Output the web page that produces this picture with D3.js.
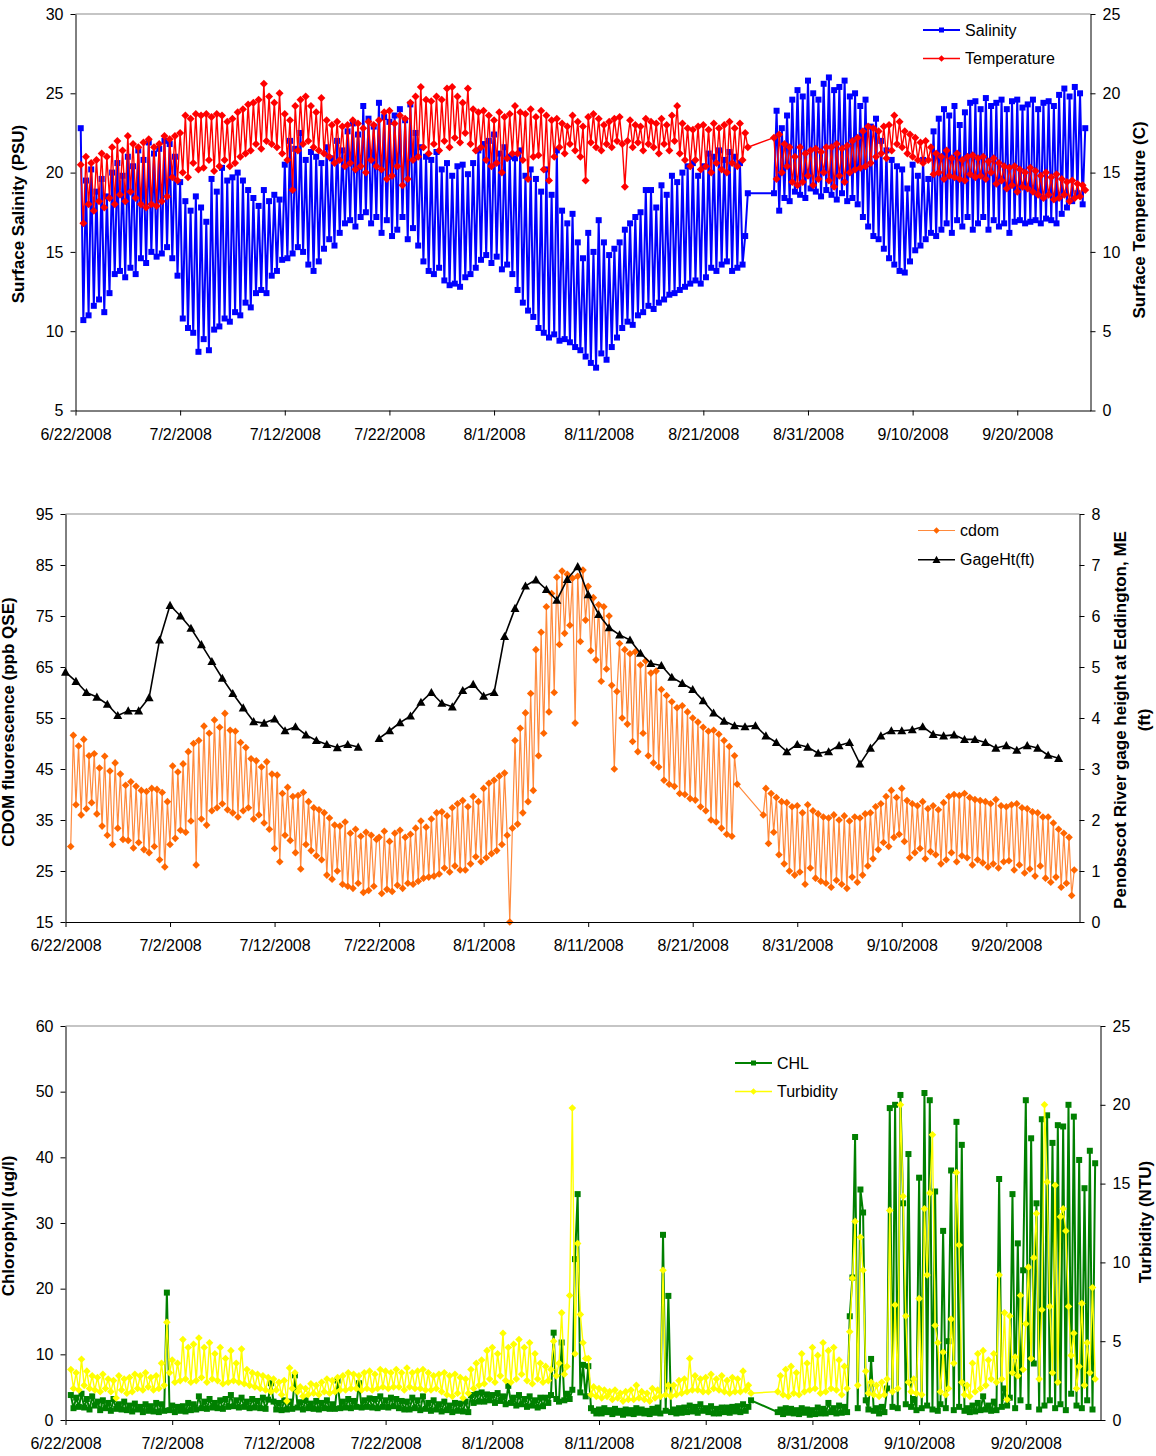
<!DOCTYPE html>
<html><head><meta charset="utf-8">
<script src="https://cdn.jsdelivr.net/npm/d3@7"></script>
<style>
body{margin:0;background:#fff;}
svg{display:block;font-family:"Liberation Sans",Arial,sans-serif;}
</style></head><body>
<svg id="c" width="1156" height="1456"></svg>
<script>
// ---------- DATA ----------
const tickDays = [0,10,20,30,40,50,60,70,80,90];
const tickLabels = ["6/22/2008","7/2/2008","7/12/2008","7/22/2008","8/1/2008","8/11/2008","8/21/2008","8/31/2008","9/10/2008","9/20/2008"];
const DAYS = 97;            // 6/22/2008 .. 9/27/2008
const segStartA = 0;        // first row of segment A = day 0 (6/22)
const segStartB = 66;       // first row of segment B = day 66 (8/27)
// each row = one day, readings every 6 h (first row of a segment ends at day end)

const salinityA = [
[22.8,10.7],[19.5,11.0,20.2,11.6],[18.8,12.0,19.6,11.2],[18.5,12.4,20.0,13.6],[20.6,13.8,19.8,13.4],
[21.0,14.0,20.4,13.6],[21.4,14.6,20.8,14.3],[21.9,15.0,21.2,14.7],[21.5,14.9,22.0,15.3],[21.8,14.6,21.0,13.5],
[19.4,10.8,18.2,10.2],[17.6,9.9,18.5,8.7],[17.8,9.5,16.9,8.8],[19.6,10.1,18.8,10.3],[20.3,10.8,19.5,10.6],
[19.7,11.2,20.0,11.0],[19.5,11.8,18.9,11.5],[18.4,12.4,17.9,12.6],[18.9,12.4,18.2,13.5],[18.6,13.8,18.3,14.5],
[20.5,14.6,22.0,14.9],[21.5,15.3,22.5,15.0],[20.8,14.2,21.3,13.8],[21.0,14.4,20.6,15.2],[21.6,15.8,20.9,15.4],
[22.0,16.2,21.4,16.8],[22.6,17.0,23.1,16.6],[22.4,17.2,24.2,17.5],[23.4,16.8,22.9,17.2],[24.4,16.2,23.5,17.0],
[23.2,16.0,23.6,16.4],[24.0,17.2,23.3,15.8],[24.3,16.5,22.5,15.4],[21.6,14.4,21.0,13.8],[20.8,13.6,21.3,14.0],
[20.2,13.2,20.6,12.9],[19.8,13.0,20.4,12.8],[20.5,13.4,19.9,13.6],[20.6,14.0,21.4,14.5],[21.8,14.8,22.0,14.3],
[22.4,14.7,21.2,13.9],[21.6,14.2,21.0,13.6],[20.9,12.6,21.4,11.8],[19.8,11.3,20.2,10.9],[19.6,10.2,18.8,9.9],
[20.2,9.6,18.6,9.8],[21.4,9.4,17.6,9.5],[16.8,9.3,17.4,9.0],[15.6,8.8,14.6,8.4],[16.2,8.0,15.0,7.7],
[17.0,8.6,15.6,8.2],[14.8,9.0,15.2,9.6],[15.6,10.2,16.4,10.6],[16.8,10.4,17.2,11.0],[17.5,11.2,18.9,11.6],
[18.9,11.4,17.8,11.8],[19.2,12.0,18.6,12.3],[19.8,12.4,19.4,12.6],[20.0,12.8,20.4,13.0],[20.6,13.2,19.8,13.0],
[20.4,13.4,21.2,14.0],[21.0,13.8,21.4,14.2],[20.8,14.4,21.3,13.8],[21.0,14.0,20.6,14.2],[16.0,18.7]
];
const salinityB = [
[18.7],[23.9,17.6,22.8,18.4],[23.6,18.2,24.6,18.8],[25.2,18.6,24.8,18.4],[25.8,19.0,25.0,18.8],
[24.6,18.5,25.6,18.9],[26.0,18.6,25.2,18.3],[25.4,18.7,25.8,18.2],[24.8,18.4,25.0,18.0],[24.2,17.2,24.6,16.6],
[22.9,16.0,23.4,15.8],[22.0,15.2,21.4,14.6],[20.8,14.2,20.4,13.8],[20.2,13.7,19.0,14.4],[20.5,15.1,19.8,15.4],
[20.8,15.8,19.6,16.2],[22.6,16.0,23.4,16.4],[24.0,16.8,23.6,16.2],[24.2,17.0,23.0,16.6],[23.8,17.2,24.4,16.4],
[24.5,16.8,24.0,17.2],[24.7,16.4,24.2,17.0],[24.4,16.6,24.6,16.8],[24.0,16.2,24.5,16.9],[24.6,17.0,24.1,16.8],
[24.3,16.9,24.6,17.0],[24.0,16.8,24.4,17.1],[24.5,17.0,24.2,16.8],[24.9,17.4,25.3,17.8],[24.8,18.2,25.4,18.7],
[25.0,18.0,22.8]
];
const temperatureA = [
[15.5,11.8],[16.0,13.0,15.6,12.6],[15.8,13.2,16.2,12.8],[16.0,13.4,16.6,13.0],[17.0,13.6,16.4,13.2],
[17.3,13.8,16.8,13.4],[16.6,13.0,16.9,12.8],[17.1,13.0,16.6,12.9],[16.8,13.2,17.3,13.5],[17.1,14.7,17.3,14.5],
[17.5,15.0,18.6,14.7],[18.4,15.6,18.7,15.2],[18.6,15.3,18.7,15.8],[18.5,15.1,18.7,15.4],[18.6,15.8,18.2,15.4],
[18.4,15.6,18.8,16.0],[19.0,16.2,19.3,16.4],[19.4,16.8,19.6,16.5],[20.6,17.0,19.8,16.8],[19.4,16.6,20.0,16.2],
[18.7,15.8,18.3,13.9],[19.2,16.4,19.6,16.8],[19.8,17.0,19.2,16.6],[18.8,16.4,19.7,16.2],[18.3,16.0,18.0,15.6],
[18.2,15.8,17.9,15.4],[18.0,15.6,18.3,15.2],[18.1,15.4,17.8,15.0],[18.2,15.8,18.0,15.4],[18.3,15.2,18.8,14.6],
[18.9,14.8,18.1,15.4],[18.6,14.2,18.4,14.6],[19.4,15.8,19.8,16.0],[20.4,16.6,19.6,16.2],[19.5,16.8,19.8,16.4],
[19.6,17.0,20.3,16.6],[20.4,17.2,19.8,16.9],[19.4,17.5,20.3,16.8],[19.0,16.4,18.8,16.6],[18.9,15.8,18.6,15.4],
[18.3,15.6,18.8,15.0],[18.5,15.9,18.7,16.2],[19.2,16.2,18.8,15.8],[18.7,14.6,19.0,16.0],[18.5,16.1,18.9,15.2],
[18.6,14.5,18.3,16.0],[18.4,16.6,18.1,16.2],[17.9,16.8,18.6,16.4],[18.2,16.0,17.9,14.5],[18.5,16.9,18.7,16.6],
[18.4,16.4,18.0,16.8],[18.2,16.6,18.4,17.0],[18.5,16.8,14.1,17.0],[18.3,16.6,18.0,16.9],[17.9,16.4,18.4,16.8],
[18.2,16.6,18.1,16.2],[18.4,16.8,18.0,16.4],[18.6,17.0,19.2,16.2],[18.1,15.8,17.8,15.4],[17.7,15.8,17.9,15.2],
[18.0,15.4,17.7,15.0],[18.1,15.6,17.8,15.2],[18.0,15.0,18.2,15.6],[17.8,15.4,18.1,15.8],[17.5,16.6]
];
const temperatureB = [
[17.2],[14.6,17.4,15.0,16.8],[15.4,16.6,14.4,16.0],[14.2,16.6,14.4,16.2],[14.8,16.4,14.2,16.5],
[14.6,16.3,15.0,16.6],[14.5,16.6,14.1,16.8],[14.8,16.5,14.4,16.7],[15.0,17.0,15.2,17.2],[15.3,17.6,15.4,17.9],
[15.6,17.8,16.0,17.6],[16.2,17.9,15.9,18.0],[16.4,18.6,16.8,18.2],[16.6,17.6,16.2,17.4],[16.0,17.2,15.8,16.9],
[15.6,17.0,15.8,16.6],[14.9,16.2,15.0,16.0],[14.6,16.4,14.8,15.9],[14.7,16.2,14.6,15.8],[14.5,16.0,14.9,16.1],
[14.7,15.9,14.8,16.0],[14.6,15.7,15.0,15.9],[14.3,15.6,14.5,15.4],[14.0,15.3,14.2,15.4],[13.8,15.2,14.1,15.0],
[14.0,15.3,13.8,15.1],[13.6,14.8,13.4,15.0],[13.6,14.7,13.3,14.9],[13.4,14.6,13.6,14.4],[13.2,14.5,13.4,14.3],
[13.5,14.2,13.9]
];
const cdomA = [
[29.8,51.6],[38.0,49.5,36.0,50.8],[37.2,47.6,38.4,48.0],[36.2,45.2,33.8,47.5],[32.0,44.6,30.2,46.2],
[33.4,44.0,31.2,41.8],[31.0,42.5,29.5,41.6],[30.6,40.8,29.2,40.6],[28.6,41.2,29.8,41.0],[27.2,40.4,25.8,38.6],
[30.2,45.6,31.4,44.4],[33.0,46.0,32.6,48.4],[34.8,50.0,26.2,50.6],[35.2,53.4,34.0,52.0],[36.8,54.6,37.4,53.2],
[38.2,55.9,37.0,52.6],[36.4,52.4,35.6,50.2],[36.8,49.2,37.4,47.0],[35.2,46.6,36.0,45.4],[34.4,46.4,33.2,44.0],
[29.4,43.8,26.8,40.2],[32.0,41.4,31.0,39.6],[28.6,39.8,25.4,40.4],[30.2,38.6,29.0,37.4],[28.0,37.0,27.2,36.4],
[24.2,35.4,23.4,34.0],[25.0,33.8,22.4,34.6],[22.0,32.4,21.6,33.2],[22.6,31.8,20.8,32.6],[21.2,32.0,22.0,31.2],
[31.6,20.6,32.8,21.4],[30.8,21.0,32.4,22.2],[33.0,21.6,31.6,22.6],[32.2,22.4,33.4,23.0],[34.8,23.6,33.6,23.8],
[35.2,24.0,36.4,24.4],[36.6,25.6,35.8,24.8],[37.4,26.0,38.2,25.2],[38.8,25.2,37.6,26.4],[39.6,27.8,38.6,26.8],
[41.2,27.6,42.2,28.4],[42.8,29.0,43.6,30.2],[44.2,32.0,15.0,33.4],[50.6,34.2,53.0,36.4],[56.0,38.6,59.8,40.8],
[68.4,47.6,71.8,52.0],[76.8,56.2,79.4,60.0],[82.6,69.4,83.8,71.6],[83.2,73.2,82.4,54.0],[82.8,70.0,84.0,74.2],
[80.8,68.2,78.6,66.4],[77.2,62.2,76.8,64.6],[75.0,61.4,45.0,60.2],[69.6,55.0,68.4,53.8],[67.6,50.4,68.0,48.4],
[65.4,52.0,66.2,47.6],[63.8,46.2,64.2,45.4],[60.6,42.8,59.4,42.0],[58.2,41.6,57.0,40.2],[57.4,40.0,56.2,39.2],
[55.0,38.9,54.2,37.6],[53.2,36.8,52.4,35.0],[52.6,34.6,51.8,33.4],[50.6,32.2,49.4,31.8],[47.6,42.0]
];
const cdomB = [
[36.0],[41.2,30.4,40.2,32.6],[39.4,28.2,38.6,26.4],[38.4,25.0,37.6,24.2],[37.8,24.8,36.4,22.4],
[38.0,25.6,36.8,23.6],[36.2,23.0,35.6,22.6],[35.4,21.8,36.0,23.2],[35.0,22.4,35.8,21.6],[34.8,23.8,35.6,22.8],
[35.4,24.2,36.2,26.0],[36.4,27.4,37.6,29.2],[38.2,30.6,39.6,29.8],[40.8,31.6,39.4,32.2],[41.2,30.8,38.8,27.6],
[38.2,28.6,37.8,29.4],[38.6,27.4,37.2,28.8],[37.8,28.2,37.0,26.4],[38.4,27.2,39.6,28.6],[40.0,26.8,39.8,28.0],
[40.2,27.6,39.4,26.2],[39.0,27.2,38.8,26.6],[38.6,25.8,38.2,26.4],[39.0,25.6,37.8,26.8],[37.6,27.0,38.0,25.2],
[38.2,26.2,37.4,24.6],[37.2,25.4,36.6,24.0],[36.4,26.0,35.6,23.6],[35.6,22.8,34.4,23.8],[33.2,21.8,32.4,22.6],
[31.6,20.2,25.2]
];
// daily gage height (ft), day 0 = 6/22; null = missing
const gageHt = [
4.90,4.72,4.50,4.41,4.27,4.05,4.14,4.14,4.40,5.53,6.21,6.00,5.76,5.44,5.11,4.78,4.48,4.20,3.93,3.90,
3.98,3.75,3.83,3.67,3.56,3.48,3.42,3.48,3.43,null,3.60,3.75,3.91,4.04,4.31,4.50,4.29,4.22,4.54,4.66,
4.43,4.50,5.60,6.15,6.59,6.71,6.52,6.31,6.72,6.97,6.42,6.03,5.77,5.63,5.53,5.27,5.07,5.03,4.80,4.68,
4.56,4.34,4.10,3.94,3.85,3.83,3.85,3.65,3.52,3.34,3.48,3.43,3.31,3.34,3.46,3.52,3.10,3.41,3.65,3.75,
3.75,3.77,3.83,3.68,3.65,3.67,3.58,3.58,3.52,3.41,3.46,3.37,3.46,3.41,3.27,3.21
];
const chlA = [
[3.8,1.8],[3.4,2.0,4.0,1.9],[3.2,1.6,3.6,2.2],[2.8,1.5,3.0,1.8],[2.6,1.4,3.2,1.7],
[2.4,1.6,2.8,1.5],[2.2,1.3,2.5,1.6],[2.0,1.2,2.4,1.4],[2.1,1.3,2.6,1.2],[2.4,1.4,19.4,1.5],
[2.2,1.2,2.0,1.4],[2.1,1.3,2.6,1.5],[2.4,1.6,3.6,1.8],[2.8,1.7,3.2,1.9],[2.6,1.8,3.0,1.7],
[3.2,2.0,3.8,2.1],[3.0,1.9,3.4,2.0],[2.8,1.8,3.2,1.9],[2.9,1.8,3.4,1.7],[3.1,5.6,2.8,1.6],
[2.6,1.5,3.0,1.6],[2.8,1.7,6.8,1.9],[2.7,1.6,3.0,1.8],[2.5,1.7,2.9,1.6],[2.6,1.8,3.0,1.7],
[2.4,1.7,6.0,1.8],[2.8,1.9,3.2,1.8],[2.9,2.0,5.6,1.9],[3.0,2.0,3.3,1.9],[3.2,1.8,3.6,2.0],
[3.0,1.9,3.4,2.1],[3.2,1.8,2.9,1.6],[2.8,1.6,3.4,1.8],[3.0,1.5,3.6,1.7],[2.6,1.4,3.0,1.6],
[2.4,1.3,2.8,1.5],[2.2,1.2,2.6,1.4],[2.5,1.3,2.8,1.2],[3.8,2.6,4.0,2.8],[4.2,2.8,3.9,3.0],
[3.8,2.6,4.1,2.9],[3.6,2.4,5.2,2.6],[3.4,2.2,3.8,2.4],[3.2,2.0,3.6,2.2],[3.0,1.9,3.4,2.1],
[3.4,2.6,3.8,13.3],[3.2,2.8,11.8,3.0],[4.0,3.2,4.6,24.5],[34.4,4.2,8.4,3.6],[8.2,1.8,1.4,1.0],
[1.6,1.0,1.8,1.2],[1.5,0.9,1.7,1.1],[1.4,0.8,1.6,1.0],[1.5,0.9,1.8,1.1],[1.6,1.0,1.4,0.9],
[1.7,1.1,1.9,1.0],[28.2,1.4,18.9,1.2],[1.6,1.0,1.8,1.1],[1.9,1.2,2.2,1.3],[2.0,1.1,2.4,1.4],
[1.8,1.2,2.1,1.0],[1.7,1.0,1.9,1.2],[1.9,1.1,2.0,1.3],[2.1,1.2,2.4,1.4],[2.0,3.0]
];
const chlB = [
[1.2],[1.6,0.9,1.8,1.1],[1.7,1.0,1.5,0.9],[1.8,1.1,1.6,0.8],[1.5,0.9,1.9,1.0],
[1.7,1.0,2.6,1.2],[1.8,1.0,2.2,1.1],[2.0,1.2,15.8,21.7],[43.1,1.8,35.1,31.6],[3.0,1.6,9.3,1.4],
[1.8,1.0,2.0,1.2],[4.8,47.5,2.0,48.0],[1.8,49.5,33.0,2.4],[40.5,2.0,3.2,1.5],[36.9,1.8,49.8,2.2],
[48.7,1.6,34.8,1.4],[2.4,28.8,1.8,12.0],[38.0,1.5,45.4,2.0],[41.9,1.4,1.8,1.2],[2.2,1.3,2.6,1.5],
[3.6,1.6,2.2,1.4],[2.8,1.5,36.7,2.0],[4.8,2.2,3.4,34.4],[1.8,26.9,3.0,22.8],[48.7,2.0,42.9,8.6],
[33.0,1.6,45.8,2.2],[46.4,3.0,42.2,1.8],[44.9,2.4,44.7,1.5],[48.0,4.0,46.2,2.2],[39.6,1.8,35.3,3.0],
[41.0,1.6,39.1]
];
const turbidityA = [
[3.2,2.0],[3.0,1.9,3.85,2.2],[3.1,2.0,2.8,1.9],[2.7,1.8,2.9,2.0],[2.6,1.8,2.5,1.4],
[2.8,1.9,2.6,1.7],[2.7,1.8,2.9,2.0],[2.8,1.9,3.0,2.1],[2.7,1.9,2.8,2.0],[3.6,2.2,6.2,3.0],
[3.8,2.4,3.6,2.5],[5.1,2.6,4.6,2.4],[4.8,2.5,5.2,2.7],[4.6,2.4,4.9,2.6],[4.2,2.5,4.6,2.3],
[3.9,2.4,4.4,2.5],[3.6,2.4,4.5,2.3],[3.2,2.2,3.0,2.1],[2.9,2.0,2.8,1.9],[2.7,1.8,2.6,1.9],
[2.4,1.6,2.5,1.2],[3.3,2.0,3.0,1.8],[2.1,1.5,2.0,1.6],[2.3,1.7,2.2,1.6],[2.4,1.8,2.6,1.7],
[2.5,1.8,2.7,1.9],[2.8,1.9,3.0,2.0],[2.9,2.0,2.8,1.9],[3.0,2.0,3.1,1.9],[2.9,2.0,3.2,2.1],
[3.1,2.0,3.0,2.1],[3.2,2.1,3.0,1.9],[3.3,2.1,3.0,2.0],[3.1,2.0,3.2,1.9],[3.0,1.9,2.8,2.0],
[2.9,1.8,3.0,1.6],[2.8,1.5,2.9,1.7],[2.7,1.4,2.6,1.7],[3.2,2.0,3.6,2.2],[3.8,2.3,4.4,2.6],
[4.6,2.4,4.2,2.8],[5.5,2.5,4.6,2.4],[4.8,2.6,5.1,2.9],[4.6,2.5,4.9,2.3],[4.2,2.6,3.6,2.4],
[3.4,2.5,3.2,5.0],[2.8,3.6,6.8,2.9],[3.4,7.9,19.8,4.2],[11.2,6.7,4.9,3.9],[3.9,1.6,2.1,1.5],
[2.0,1.4,1.9,1.5],[1.8,1.3,1.9,1.4],[1.7,1.2,1.8,1.3],[1.9,1.3,2.2,1.4],[1.8,1.3,1.7,1.2],
[2.0,1.4,1.9,1.5],[9.5,1.6,2.2,1.5],[2.2,1.6,2.5,1.7],[2.6,1.8,3.9,1.9],[2.8,1.9,2.6,1.8],
[2.7,1.8,2.9,2.0],[2.6,1.9,2.8,1.8],[2.5,1.7,2.7,1.8],[2.6,1.8,3.1,1.9],[2.2,1.7]
];
const turbidityB = [
[1.8],[2.8,1.6,3.2,1.5],[3.4,1.7,3.0,1.6],[4.2,1.8,3.6,1.9],[4.6,2.0,4.1,1.7],
[4.9,1.8,4.4,2.0],[4.6,1.9,3.8,1.6],[3.4,2.0,5.6,9.0],[12.6,2.2,11.6,9.5],[3.1,1.7,2.4,1.6],
[2.2,1.5,2.4,1.6],[2.6,13.3,1.8,7.3],[2.0,20.0,14.2,6.6],[2.4,1.8,2.6,1.7],[7.7,1.6,13.4,9.2],
[14.4,18.1,6.0,4.9],[1.8,4.3,1.6,2.0],[6.4,3.6,15.7,11.1],[2.4,1.6,2.2,1.5],[3.6,1.8,4.2,2.0],
[4.4,2.2,3.8,2.6],[4.2,2.4,9.2,2.6],[6.8,1.3,6.6,3.0],[4.0,2.8,7.9,3.2],[6.1,9.7,3.9,10.3],
[13.1,2.6,7.0,20.0],[15.1,7.2,3.0,14.9],[2.4,12.9,13.4,12.0],[7.2,4.1,5.5,2.0],[3.4,7.4,2.2,4.9],
[3.0,8.4,2.6]
];

// ---------- HELPERS ----------
function expand(rowsA, rowsB) {
  const out = [];
  [[rowsA, segStartA], [rowsB, segStartB]].forEach(([rows, start]) => {
    rows.forEach((row, k) => {
      const off = k === 0 ? 1 - 0.25 * row.length : 0;
      row.forEach((v, j) => out.push({t: start + k + off + 0.25 * j, v}));
    });
  });
  return out;
}
const sym = {
  square: s => `M${-s},${-s}h${2*s}v${2*s}h${-2*s}Z`,
  diamond: r => `M0,${-r}L${r},0L0,${r}L${-r},0Z`,
  triangle: r => `M0,${-r}L${r},${r*0.8}L${-r},${r*0.8}Z`
};

const svg = d3.select("#c");

function styleAxis(a) {
  a.attr("font-family", null).attr("font-size", null);
  a.selectAll("text").attr("font-size", 16).attr("fill", "#000");
  a.selectAll("line").attr("stroke", "#000");
  a.selectAll("path.domain").attr("stroke", "#000");
}

function panel(cfg) {
  const g = svg.append("g");
  const x = d3.scaleLinear().domain([0, DAYS]).range([cfg.left, cfg.right]);
  const yL = d3.scaleLinear().domain(cfg.yL).range([cfg.bottom, cfg.top]);
  const yR = d3.scaleLinear().domain(cfg.yR).range([cfg.bottom, cfg.top]);
  g.append("line").attr("x1", cfg.left).attr("x2", cfg.right).attr("y1", cfg.top).attr("y2", cfg.top)
    .attr("stroke", "#8c8c8c").attr("stroke-width", 1.2);
  const series = g.append("g");
  const ab = g.append("g").attr("transform", `translate(0,${cfg.bottom})`)
    .call(d3.axisBottom(x).tickValues(tickDays).tickFormat((d, i) => tickLabels[i]).tickSize(5).tickSizeOuter(0).tickPadding(13));
  styleAxis(ab);
  const al = g.append("g").attr("transform", `translate(${cfg.left},0)`)
    .call(d3.axisLeft(yL).tickValues(cfg.ticksL).tickFormat(d3.format("d")).tickSize(5).tickSizeOuter(0).tickPadding(7));
  styleAxis(al);
  const ar = g.append("g").attr("transform", `translate(${cfg.right},0)`)
    .call(d3.axisRight(yR).tickValues(cfg.ticksR).tickFormat(d3.format("d")).tickSize(5).tickSizeOuter(0).tickPadding(7));
  styleAxis(ar);
  return {g, series, x, yL, yR};
}

function addSeries(p, data, y, o) {
  const line = d3.line().defined(d => d.v != null).x(d => p.x(d.t)).y(d => y(d.v));
  p.series.append("path").datum(data).attr("d", line).attr("fill", "none")
    .attr("stroke", o.lineColor || o.color).attr("stroke-width", o.lw).attr("stroke-linejoin", "round");
  p.series.append("g").selectAll("path").data(data.filter(d => d.v != null)).join("path")
    .attr("d", o.marker).attr("transform", d => `translate(${p.x(d.t)},${y(d.v)})`).attr("fill", o.color);
}

function legend(g, items, x0, y0, dy) {
  items.forEach((it, i) => {
    const y = y0 + i * dy;
    g.append("line").attr("x1", x0).attr("x2", x0 + 37).attr("y1", y).attr("y2", y)
      .attr("stroke", it.lineColor || it.color).attr("stroke-width", it.lw);
    g.append("path").attr("d", it.legendMarker || it.marker).attr("transform", `translate(${x0 + 18.5},${y})`).attr("fill", it.color);
    g.append("text").attr("x", x0 + 42).attr("y", y).attr("dy", "0.35em").attr("font-size", 16).attr("fill", "#000").text(it.name);
  });
}

function vtitle(x, y, lines, dx) {
  const t = svg.append("text").attr("transform", `translate(${x},${y}) rotate(-90)`)
    .attr("text-anchor", "middle").attr("font-size", 17).attr("font-weight", "bold").attr("fill", "#000");
  lines.forEach((s, i) => t.append("tspan").attr("x", 0).attr("y", i * (dx || 0)).attr("dy", "0.35em").text(s));
}

// ---------- PANEL 1 ----------
const p1 = panel({left: 75.5, right: 1090.5, top: 14, bottom: 410.5, yL: [5, 30], yR: [0, 25],
  ticksL: [5, 10, 15, 20, 25, 30], ticksR: [0, 5, 10, 15, 20, 25]});
const sal = {color: "#0000FF", lw: 2, marker: sym.square(3), legendMarker: sym.square(2.5)};
const tmp = {color: "#FF0000", lw: 1.4, marker: sym.diamond(4), legendMarker: sym.diamond(3.2)};
addSeries(p1, expand(salinityA, salinityB), p1.yL, sal);
addSeries(p1, expand(temperatureA, temperatureB), p1.yR, tmp);
legend(p1.g, [Object.assign({name: "Salinity"}, sal), Object.assign({name: "Temperature"}, tmp)], 923, 30, 28.5);
vtitle(18, 214, ["Surface Salinity (PSU)"]);
vtitle(1139, 220, ["Surface Temperature (C)"]);

// ---------- PANEL 2 ----------
const p2 = panel({left: 65.5, right: 1079.5, top: 514, bottom: 922, yL: [15, 95], yR: [0, 8],
  ticksL: [15, 25, 35, 45, 55, 65, 75, 85, 95], ticksR: [0, 1, 2, 3, 4, 5, 6, 7, 8]});
const cd = {color: "#FF6600", lineColor: "#FF8A3D", lw: 1.2, marker: sym.diamond(3.8), legendMarker: sym.diamond(3.2)};
const gh = {color: "#000000", lw: 1.6, marker: sym.triangle(4.5), legendMarker: sym.triangle(4)};
addSeries(p2, expand(cdomA, cdomB), p2.yL, cd);
addSeries(p2, gageHt.map((v, i) => ({t: i, v})), p2.yR, gh);
legend(p2.g, [Object.assign({name: "cdom"}, cd), Object.assign({name: "GageHt(ft)"}, gh)], 918, 530.5, 29.3);
vtitle(8.5, 722, ["CDOM fluorescence (ppb QSE)"]);
vtitle(1120, 720, ["Penobscot River gage height at Eddington, ME", "(ft)"], 24);

// ---------- PANEL 3 ----------
const p3 = panel({left: 65.5, right: 1100.5, top: 1026, bottom: 1420, yL: [0, 60], yR: [0, 25],
  ticksL: [0, 10, 20, 30, 40, 50, 60], ticksR: [0, 5, 10, 15, 20, 25]});
const ch = {color: "#008000", lw: 2, marker: sym.square(3), legendMarker: sym.square(2.5)};
const tb = {color: "#FFFF00", lw: 1.4, marker: sym.diamond(3.8), legendMarker: sym.diamond(3.2)};
addSeries(p3, expand(chlA, chlB), p3.yL, ch);
addSeries(p3, expand(turbidityA, turbidityB), p3.yR, tb);
legend(p3.g, [Object.assign({name: "CHL"}, ch), Object.assign({name: "Turbidity"}, tb)], 735, 1063, 28.5);
vtitle(8.5, 1226, ["Chlorophyll (ug/l)"]);
vtitle(1145.5, 1222, ["Turbidity (NTU)"]);
</script>
</body></html>
